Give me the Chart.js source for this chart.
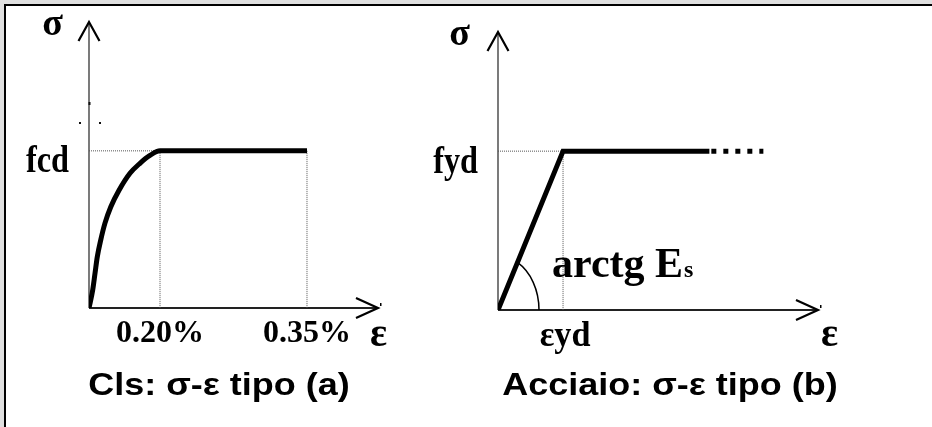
<!DOCTYPE html>
<html>
<head>
<meta charset="utf-8">
<title>Legami costitutivi</title>
<script src="https://cdn.jsdelivr.net/npm/chart.js@4.4.0/dist/chart.umd.min.js"></script>
<style>
  html, body { margin: 0; padding: 0; }
  body { width: 932px; height: 427px; background: #dfdfdf; position: relative; overflow: hidden; }
  .frame { position: absolute; left: 4px; top: 4px; right: 0; bottom: 0; background: #fff;
           border-left: 2px solid #000; border-top: 2px solid #000; }
  .box { position: absolute; top: 0; height: 427px; }
</style>
</head>
<body>
<div class="frame"></div>
<div class="box" style="left:0; width:466px"><canvas id="cls"></canvas></div>
<div class="box" style="left:400px; width:532px"><canvas id="acciaio"></canvas></div>

<script>
// calcestruzzo, parabola-rettangolo: deformazione in %, tensione come frazione di fcd
const clsStrain = [0, 0.0104, 0.017, 0.0234, 0.033, 0.045, 0.0612, 0.0846, 0.1154, 0.1436, 0.1718, 0.20, 0.35];
const clsStress = [0, 0.114, 0.222, 0.326, 0.432, 0.540, 0.643, 0.749, 0.857, 0.921, 0.971, 1, 1];
const clsTicks = [0.20, 0.35];
const clsTickLabels = ['0.20%', '0.35%'];

// acciaio elastico - perfettamente plastico: deformazione / eyd, tensione / fyd
const steelStrain = [0, 1, 3.25];
const steelStress = [0, 1, 1];
const steelTailStrain = [3.28, 4.08];
const steelTailStress = [1, 1];

// l'asse delle deformazioni del cls non e' in scala: tratti [valore, frazione dell'asse]
const clsAxisStops = [[0, 0], [0.20, 0.2457], [0.35, 0.7543], [0.42, 1]];

const zip = (xs, ys) => xs.map((v, i) => ({ x: v, y: ys[i] }));

const Linear = Chart.LinearScale || Chart.registry.getScale('linear');

class SchematicScale extends Linear {
  static id = 'schematic';

  getPixelForValue(value) {
    const s = clsAxisStops;
    let i = 1;
    while (i < s.length - 1 && value > s[i][0]) i++;
    const [v0, f0] = s[i - 1], [v1, f1] = s[i];
    return this.getPixelForDecimal(f0 + (value - v0) / (v1 - v0) * (f1 - f0));
  }

  getValueForPixel(pixel) {
    const d = this.getDecimalForPixel(pixel);
    const s = clsAxisStops;
    let i = 1;
    while (i < s.length - 1 && d > s[i][1]) i++;
    const [v0, f0] = s[i - 1], [v1, f1] = s[i];
    return v0 + (d - f0) / (f1 - f0) * (v1 - v0);
  }
}
Chart.register(SchematicScale);

const serif = size => `bold ${size}px "Liberation Serif", "Times New Roman", serif`;
const sans = size => `bold ${size}px "Liberation Sans", Arial, sans-serif`;

function label(ctx, text, x, y, font, align = 'left', sx = 1) {
  ctx.save();
  ctx.font = font;
  ctx.fillStyle = '#000';
  ctx.textAlign = align;
  ctx.textBaseline = 'alphabetic';
  ctx.translate(x, y);
  ctx.scale(sx, 1);
  ctx.fillText(text, 0, 0);
  ctx.restore();
}

function stroke(ctx, pts) {
  ctx.beginPath();
  pts.forEach(([px, py], i) => i ? ctx.lineTo(px, py) : ctx.moveTo(px, py));
  ctx.stroke();
}

function corners(chart) {
  const { x, y } = chart.scales;
  return {
    x, y,
    ox: x.getPixelForValue(0), oy: y.getPixelForValue(0),
    xt: x.getPixelForValue(x.max), yt: y.getPixelForValue(y.max)
  };
}

// assi con le punte a freccia aperte
const axesPlugin = {
  id: 'assi',
  beforeDatasetsDraw(chart) {
    const { ctx } = chart;
    const { ox, oy, xt, yt } = corners(chart);
    ctx.save();
    ctx.strokeStyle = '#222';
    ctx.lineWidth = 1.2;
    stroke(ctx, [[ox, oy], [ox, yt]]);
    ctx.lineWidth = 1.8;
    stroke(ctx, [[ox, oy], [xt, oy]]);
    ctx.strokeStyle = '#000';
    ctx.lineWidth = 2.2;
    ctx.lineJoin = 'miter';
    stroke(ctx, [[ox - 10.5, yt + 19], [ox, yt], [ox + 10.5, yt + 19]]);
    stroke(ctx, [[xt - 22, oy - 10], [xt, oy], [xt - 22, oy + 10]]);
    ctx.fillStyle = '#000';
    ctx.fillRect(xt + 2, oy - 5, 1.5, 3);
    ctx.restore();
  }
};

const clsLabels = {
  id: 'clsLabels',
  afterDatasetsDraw(chart) {
    const { ctx } = chart;
    const { x, y, ox, oy, xt, yt } = corners(chart);
    label(ctx, 'σ', ox - 26, yt + 13, serif(38), 'right');
    label(ctx, 'fcd', ox - 20, y.getPixelForValue(1) + 21, serif(38), 'right', 0.85);
    clsTicks.forEach((v, i) => label(ctx, clsTickLabels[i], x.getPixelForValue(v), oy + 34, serif(32), 'center'));
    label(ctx, 'ε', xt - 8, oy + 38, serif(40));
    label(ctx, 'Cls: σ-ε tipo (a)', ox + 130, oy + 87, sans(31), 'center', 1.16);
    // residui di una vecchia freccia sull'asse verticale
    ctx.save();
    ctx.fillStyle = '#111';
    ctx.fillRect(ox - 0.5, yt + 80, 2, 3);
    ctx.fillRect(ox - 10, yt + 100, 2, 2);
    ctx.fillRect(ox + 10, yt + 100, 2, 2);
    ctx.restore();
  }
};

const steelLabels = {
  id: 'steelLabels',
  afterDatasetsDraw(chart) {
    const { ctx } = chart;
    const { x, y, ox, oy, xt, yt } = corners(chart);
    const ey = x.getPixelForValue(1);
    const fy = y.getPixelForValue(1);

    // arco dell'angolo arctg Es
    const rx = 41, ry = 54;
    const t = Math.atan2((oy - fy) * rx, (ey - ox) * ry);
    ctx.save();
    ctx.strokeStyle = '#000';
    ctx.lineWidth = 1.5;
    ctx.beginPath();
    ctx.ellipse(ox, oy, rx, ry, 0, -t, 0);
    ctx.stroke();
    ctx.restore();

    label(ctx, 'σ', ox - 28, yt + 13, serif(38), 'right');
    label(ctx, 'fyd', ox - 20, fy + 22, serif(38), 'right', 0.85);

    ctx.save();
    ctx.font = serif(42);
    const w = ctx.measureText('arctg E').width;
    ctx.restore();
    label(ctx, 'arctg E', ey - 11, oy - 33, serif(42));
    label(ctx, 's', ey - 11 + w + 1, oy - 33, serif(24));

    label(ctx, 'εyd', ey + 2, oy + 36, serif(36), 'center', 0.95);
    label(ctx, 'ε', xt + 3, oy + 36, serif(40));
    label(ctx, 'Acciaio: σ-ε tipo (b)', ox + 172, oy + 85, sans(31), 'center', 1.16);
  }
};

const hidden = { display: false };
const baseOptions = {
  responsive: true,
  maintainAspectRatio: false,
  animation: false,
  events: [],
  plugins: { legend: hidden, tooltip: { enabled: false }, title: hidden },
  elements: { point: { radius: 0 } }
};

const guide = {
  borderColor: '#555',
  borderWidth: 1,
  borderDash: [1, 1],
  spanGaps: false,
  order: 2
};

new Chart(document.getElementById('cls'), {
  type: 'line',
  data: {
    datasets: [
      {
        data: zip(clsStrain, clsStress),
        borderColor: '#000',
        borderWidth: 5,
        cubicInterpolationMode: 'monotone',
        borderCapStyle: 'butt',
        borderJoinStyle: 'round',
        order: 1
      },
      {
        ...guide,
        data: [
          { x: 0, y: 1 }, { x: 0.20, y: 1 }, { x: 0.20, y: null },
          { x: 0.20, y: 1 }, { x: 0.20, y: 0 }, { x: 0.35, y: null },
          { x: 0.35, y: 1 }, { x: 0.35, y: 0 }
        ]
      }
    ]
  },
  options: {
    ...baseOptions,
    layout: { padding: { left: 89, top: 22, right: 88, bottom: 119 } },
    scales: {
      x: { type: 'schematic', min: 0, max: 0.42, display: false },
      y: { type: 'linear', min: 0, max: 1.82, display: false }
    }
  },
  plugins: [axesPlugin, clsLabels]
});

new Chart(document.getElementById('acciaio'), {
  type: 'line',
  data: {
    datasets: [
      {
        data: zip(steelStrain, steelStress),
        borderColor: '#000',
        borderWidth: 5,
        tension: 0,
        borderCapStyle: 'butt',
        borderJoinStyle: 'miter',
        order: 1
      },
      {
        data: zip(steelTailStrain, steelTailStress),
        borderColor: '#000',
        borderWidth: 5,
        borderDash: [5, 7],
        borderCapStyle: 'butt',
        order: 1
      },
      {
        ...guide,
        data: [
          { x: 0, y: 1 }, { x: 1, y: 1 }, { x: 1, y: null },
          { x: 1, y: 1 }, { x: 1, y: 0 }
        ]
      }
    ]
  },
  options: {
    ...baseOptions,
    layout: { padding: { left: 98, top: 32, right: 114, bottom: 117 } },
    scales: {
      x: { type: 'linear', min: 0, max: 4.92, display: false },
      y: { type: 'linear', min: 0, max: 1.75, display: false }
    }
  },
  plugins: [axesPlugin, steelLabels]
});
</script>
</body>
</html>
